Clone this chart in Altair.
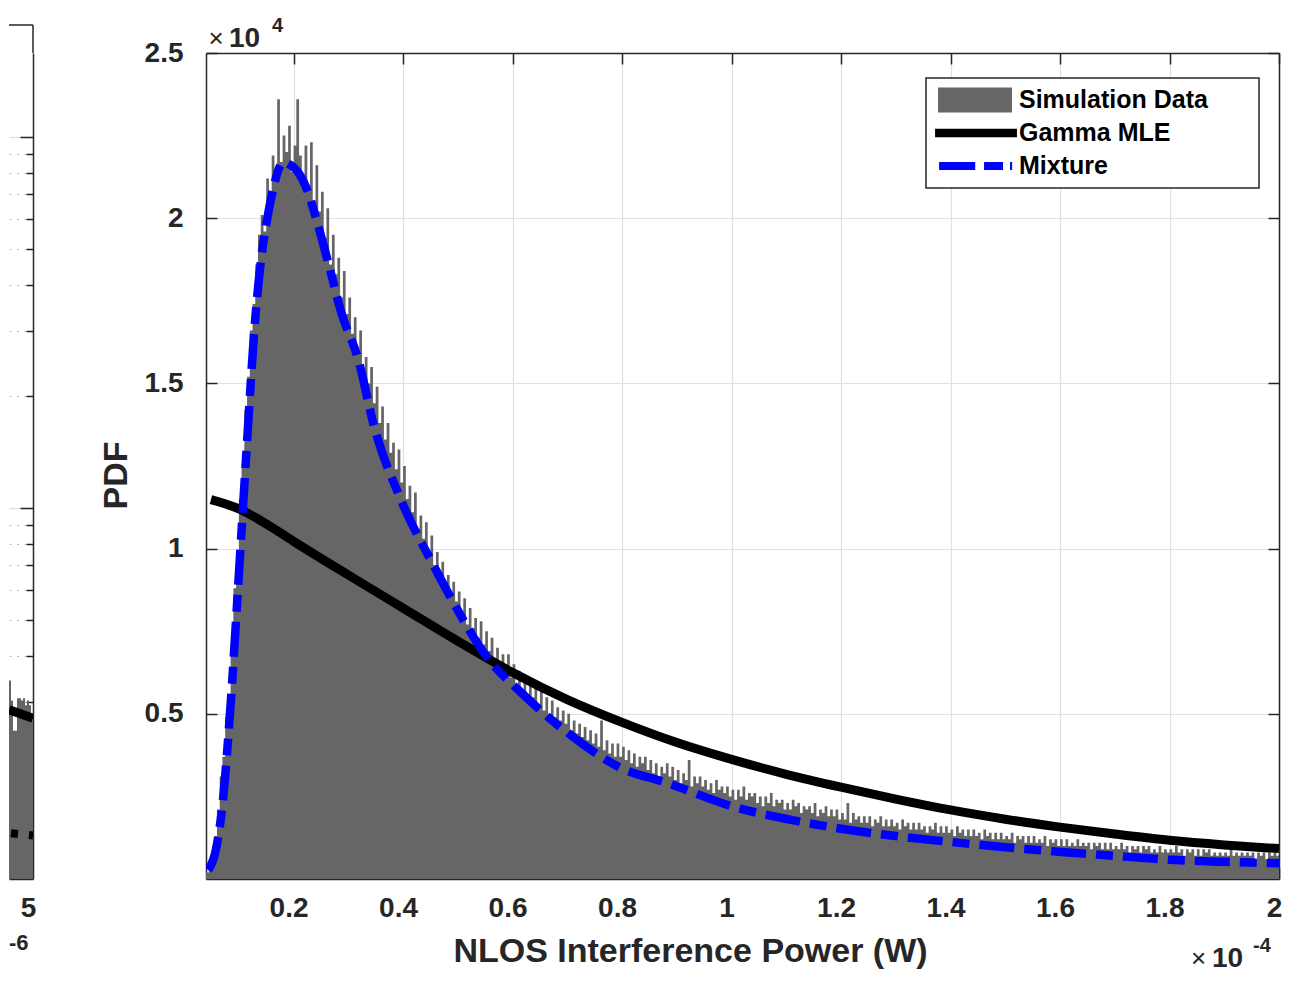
import altair as alt
import pandas as pd

# ---------------- data (x in units of 1e-4 W, y in units of 1e4) ----------------
BIN_START = 0.04
BIN_WIDTH = 0.005
hist_values = [
    0.02, 0.04, 0.07, 0.13, 0.21, 0.31, 0.37, 0.49, 0.55, 0.70,
    0.88, 0.97, 1.15, 1.25, 1.42, 1.52, 1.66, 1.74, 1.86, 1.95,
    2.01, 1.96, 2.12, 2.05, 2.19, 2.13, 2.36, 2.17, 2.25, 2.20,
    2.28, 2.14, 2.22, 2.36, 2.19, 2.12, 2.22, 2.10, 2.23, 2.05,
    2.16, 2.02, 2.08, 1.94, 2.03, 1.86, 1.95, 1.83, 1.88, 1.76,
    1.84, 1.71, 1.76, 1.65, 1.70, 1.60, 1.66, 1.54, 1.58, 1.50,
    1.55, 1.44, 1.49, 1.38, 1.43, 1.33, 1.38, 1.29, 1.32, 1.24,
    1.30, 1.20, 1.25, 1.15, 1.19, 1.11, 1.17, 1.06, 1.10, 1.03,
    1.08, 0.98, 1.04, 0.95, 0.99, 0.91, 0.96, 0.88, 0.92, 0.86,
    0.90, 0.84, 0.87, 0.80, 0.85, 0.77, 0.82, 0.76, 0.79, 0.73,
    0.78, 0.71, 0.75, 0.69, 0.73, 0.66, 0.70, 0.65, 0.68, 0.63,
    0.68, 0.61, 0.65, 0.59, 0.63, 0.57, 0.61, 0.56, 0.60, 0.55,
    0.58, 0.53, 0.57, 0.51, 0.55, 0.50, 0.54, 0.49, 0.52, 0.48,
    0.51, 0.47, 0.50, 0.45, 0.48, 0.44, 0.47, 0.43, 0.46, 0.42,
    0.45, 0.41, 0.44, 0.40, 0.48, 0.39, 0.42, 0.38, 0.41, 0.37,
    0.41, 0.37, 0.40, 0.36, 0.39, 0.35, 0.38, 0.34, 0.37, 0.35,
    0.37, 0.33, 0.36, 0.32, 0.35, 0.31, 0.34, 0.32, 0.35, 0.31,
    0.34, 0.30, 0.33, 0.29, 0.32, 0.30, 0.36, 0.28, 0.31, 0.29,
    0.31, 0.28, 0.30, 0.27, 0.29, 0.26, 0.30, 0.27, 0.28, 0.26,
    0.28, 0.25, 0.27, 0.24, 0.27, 0.25, 0.28, 0.24, 0.26, 0.25,
    0.26, 0.23, 0.25, 0.22, 0.25, 0.23, 0.26, 0.22, 0.24, 0.23,
    0.24, 0.21, 0.23, 0.21, 0.24, 0.22, 0.23, 0.20, 0.22, 0.21,
    0.22, 0.20, 0.23, 0.19, 0.21, 0.20, 0.22, 0.19, 0.21, 0.19,
    0.21, 0.18, 0.20, 0.18, 0.23, 0.17, 0.20, 0.18, 0.19, 0.17,
    0.19, 0.17, 0.19, 0.16, 0.18, 0.17, 0.19, 0.16, 0.18, 0.16,
    0.18, 0.16, 0.17, 0.15, 0.18, 0.16, 0.17, 0.15, 0.17, 0.15,
    0.17, 0.15, 0.16, 0.14, 0.16, 0.15, 0.17, 0.14, 0.16, 0.14,
    0.16, 0.14, 0.15, 0.13, 0.16, 0.14, 0.15, 0.13, 0.15, 0.13,
    0.15, 0.13, 0.14, 0.12, 0.15, 0.13, 0.14, 0.12, 0.14, 0.12,
    0.14, 0.12, 0.13, 0.12, 0.14, 0.11, 0.13, 0.12, 0.13, 0.11,
    0.13, 0.11, 0.13, 0.11, 0.12, 0.11, 0.13, 0.10, 0.12, 0.11,
    0.12, 0.10, 0.12, 0.10, 0.12, 0.10, 0.11, 0.10, 0.12, 0.10,
    0.11, 0.10, 0.11, 0.09, 0.11, 0.10, 0.11, 0.09, 0.11, 0.09,
    0.11, 0.09, 0.10, 0.09, 0.11, 0.09, 0.10, 0.08, 0.10, 0.09,
    0.10, 0.08, 0.10, 0.09, 0.10, 0.08, 0.09, 0.08, 0.10, 0.08,
    0.09, 0.08, 0.09, 0.08, 0.10, 0.08, 0.09, 0.07, 0.09, 0.08,
    0.09, 0.07, 0.09, 0.07, 0.09, 0.08, 0.09, 0.07, 0.08, 0.07,
    0.08, 0.07, 0.08, 0.07, 0.09, 0.07, 0.08, 0.07, 0.08, 0.07,
    0.08, 0.07, 0.08, 0.06, 0.08, 0.07, 0.08, 0.06, 0.08, 0.07,
    0.08, 0.07,
]

gamma_x = [0.049, 0.1, 0.15, 0.2, 0.3, 0.4, 0.5, 0.6, 0.7, 0.8, 0.9, 1.0, 1.1, 1.2,
           1.3, 1.4, 1.5, 1.6, 1.7, 1.8, 1.9, 2.0]
gamma_y = [1.148, 1.12, 1.075, 1.022, 0.92, 0.82, 0.72, 0.625, 0.543, 0.474, 0.413, 0.362,
           0.317, 0.278, 0.242, 0.209, 0.181, 0.157, 0.136, 0.117, 0.103, 0.092]

mix_x = [0.044, 0.058, 0.071, 0.085, 0.098, 0.107, 0.116, 0.128, 0.14, 0.152, 0.164, 0.173,
         0.182, 0.195, 0.208, 0.226, 0.241, 0.263, 0.287, 0.318, 0.347, 0.396, 0.457, 0.482,
         0.561, 0.61, 0.701, 0.793, 0.884, 1.005, 1.109, 1.2, 1.3, 1.401, 1.5, 1.602, 1.7,
         1.803, 1.9, 2.0]
mix_y = [0.027, 0.088, 0.24, 0.53, 0.867, 1.11, 1.35, 1.655, 1.867, 2.0, 2.097, 2.15,
         2.17, 2.16, 2.14, 2.08, 2.0, 1.867, 1.715, 1.573, 1.37, 1.148, 0.945, 0.867,
         0.655, 0.573, 0.442, 0.34, 0.29, 0.218, 0.179, 0.152, 0.13, 0.112, 0.096, 0.082, 0.07,
         0.058, 0.052, 0.048]

x_ticks = [0.2, 0.4, 0.6, 0.8, 1.0, 1.2, 1.4, 1.6, 1.8, 2.0]
y_ticks = [0.5, 1.0, 1.5, 2.0, 2.5]
series_names = ["Simulation Data", "Gamma MLE", "Mixture"]
series_colors = ["#666666", "#000000", "#0000ff"]

# partial neighbouring panel on the left (x in 1e-6, log y)
left_bin_start = 4.88
left_bin_width = 0.01
left_hist = [3.43, 3.03, 2.51, 2.51, 3.07, 3.07, 3.03, 3.07, 2.94, 3.03, 2.94, 2.68]
left_solid_x = [4.88, 5.0]
left_solid_y = [2.86, 2.71]
left_dotted_x = [4.88, 5.0]
left_dotted_y = [1.33, 1.31]
left_major = [10, 100]
left_minor = [2, 3, 4, 5, 6, 7, 8, 9, 20, 30, 40, 50, 60, 70, 80, 90]
left_x_ticks = [5.0]

# ---------------- styling ----------------
FONT = "Liberation Sans"
AX = "#262626"
GRID = "#e0e0e0"
HIST = "#666666"
W, H = 1073, 826
LW = 24
fmt = "format(datum.value, '~g')"


def step_frame(start, width, values, base):
    # histogram outline as step points: each bin start, plus the closing edge
    xs = [start + i * width for i in range(len(values))] + [start + len(values) * width]
    ys = list(values) + [values[-1]]
    return pd.DataFrame({"x": xs, "v": ys, "base": [base] * len(xs)})


hist_df = step_frame(BIN_START, BIN_WIDTH, hist_values, 0.0)
gamma_df = pd.DataFrame({"x": gamma_x, "y": gamma_y})
mix_df = pd.DataFrame({"x": mix_x, "y": mix_y})
one = pd.DataFrame({"k": [0]})

x_scale = alt.Scale(domain=[0.04, 2.0], nice=False, zero=False)
y_scale = alt.Scale(domain=[0.0, 2.5], nice=False, zero=False)


def tick_axis(orient, offset, values, domain):
    return alt.Axis(orient=orient, offset=offset, values=values, labels=False, grid=False,
                    ticks=True, tickSize=11, tickWidth=1.5, tickColor=AX,
                    domain=domain, domainColor=AX, domainWidth=1.5, title=None, minExtent=0)


def txt(s, x, y, size, weight, align="left"):
    return alt.Chart(one).mark_text(
        text=s, font=FONT, fontSize=size, fontWeight=weight, align=align,
        baseline="alphabetic", color=AX
    ).encode(x=alt.value(x), y=alt.value(y))


x_label_axis = alt.Axis(
    orient="bottom", values=x_ticks, labelExpr=fmt, grid=True, gridColor=GRID, gridWidth=1.2,
    ticks=False, domain=True, domainColor=AX, domainWidth=1.5,
    labelFont=FONT, labelFontSize=28, labelFontWeight="bold", labelColor=AX,
    labelPadding=15, labelOffset=-5, labelFlush=False,
    title="NLOS Interference Power (W)", titleFont=FONT, titleFontSize=34,
    titleFontWeight="bold", titleColor=AX, titleX=484, titleY=82,
    titleBaseline="alphabetic", titleAlign="center",
)
y_label_axis = alt.Axis(
    orient="left", values=y_ticks, labelExpr=fmt, grid=True, gridColor=GRID, gridWidth=1.2,
    ticks=False, domain=True, domainColor=AX, domainWidth=1.5,
    labelFont=FONT, labelFontSize=28, labelFontWeight="bold", labelColor=AX,
    labelPadding=23,
    title="PDF", titleFont=FONT, titleFontSize=34, titleFontWeight="bold", titleColor=AX,
    titleX=-80, titleY=422, titleBaseline="alphabetic", titleAlign="center", titleAngle=270,
)

hist = alt.Chart(hist_df).mark_area(color=HIST, interpolate="step-after", clip=True).encode(
    x=alt.X("x:Q", scale=x_scale, axis=x_label_axis),
    y=alt.Y("v:Q", scale=y_scale, axis=y_label_axis),
    y2="base:Q",
)

black = alt.Chart(gamma_df).mark_line(color="black", strokeWidth=9, clip=True,
                                      interpolate="monotone").encode(
    x=alt.X("x:Q", scale=x_scale, axis=tick_axis("top", -H, x_ticks, False)),
    y=alt.Y("y:Q", scale=y_scale, axis=tick_axis("right", -W, y_ticks, False)),
)

blue = alt.Chart(mix_df).mark_line(color="#0000ff", strokeWidth=8.5, clip=True,
                                   strokeDash=[35, 10, 17, 10], interpolate="monotone").encode(
    x=alt.X("x:Q", scale=x_scale, axis=tick_axis("bottom", -H, x_ticks, True)),
    y=alt.Y("y:Q", scale=y_scale, axis=tick_axis("left", -W, y_ticks, True)),
)

# legend swatches (unit = 13 px, symbolSize = 26^2)
symbol_paths = [
    "M-2.92,-0.96L2.77,-0.96L2.77,0.96L-2.92,0.96Z",
    "M-3.15,-0.33L3.15,-0.33L3.15,0.33L-3.15,0.33Z",
    "M-2.84,-0.31L-0.06,-0.31L-0.06,0.31L-2.84,0.31Z M0.62,-0.31L2.08,-0.31L2.08,0.31L0.62,0.31Z "
    "M2.62,-0.31L2.78,-0.31L2.78,0.31L2.62,0.31Z",
]
# trailing fixed-width padding (closed by a zero-width char so it is not trimmed)
pad = "\u00a0" * 6 + "\u200b"
legend_obj = alt.Legend(
    orient="none", legendX=917, legendY=25, title=None, symbolSize=676,
    symbolStrokeWidth=0, symbolOpacity=1, symbolOffset=28,
    labelFont=FONT, labelFontSize=25,
    labelFontWeight="bold", labelColor="black", labelLimit=600, labelOffset=30,
    strokeColor=AX, fillColor="white", padding=9, rowPadding=7,
    labelExpr="datum.label + '" + pad + "'",
)
legend_df = pd.DataFrame({"series": pd.Series([], dtype="object")})
leg = alt.Chart(legend_df).mark_point(filled=True, opacity=1).encode(
    color=alt.Color("series:N", scale=alt.Scale(domain=series_names, range=series_colors),
                    legend=legend_obj),
    shape=alt.Shape("series:N", scale=alt.Scale(domain=series_names, range=symbol_paths),
                    legend=legend_obj),
)

main = alt.layer(
    hist, black, blue, leg,
    txt("\u00d7", 10, -6, 26, "normal", "center"),
    txt("10", 23, -6, 28, "bold"),
    txt("4", 66, -21, 20, "bold"),
    txt("\u00d7", 992.5, 914, 26, "normal", "center"),
    txt("10", 1006, 914, 28, "bold"),
    txt("-4", 1047, 899, 20, "bold"),
).resolve_axis(x="independent", y="independent").properties(width=W, height=H)

# ---------------- left partial panel ----------------
left_df = step_frame(left_bin_start, left_bin_width, left_hist, 1.0)
ls_df = pd.DataFrame({"x": left_solid_x, "y": left_solid_y})
ld_df = pd.DataFrame({"x": left_dotted_x, "y": left_dotted_y})

lx_scale = alt.Scale(domain=[4.88, 5.0], nice=False, zero=False)
ly_scale = alt.Scale(type="log", domain=[1, 168.4], nice=False)
major_test = "datum.value == 10 || datum.value == 100"

left_y_axis = alt.Axis(
    orient="left", offset=-LW, values=left_major + left_minor, labels=False,
    grid=True, gridWidth=1.2,
    gridColor={"condition": {"test": major_test, "value": "#dcdcdc"}, "value": "#bdbdbd"},
    gridDash={"condition": {"test": major_test, "value": []}, "value": [2, 5.5]},
    ticks=True, tickWidth=1.5, tickColor=AX,
    tickSize={"condition": {"test": major_test, "value": 13}, "value": 7},
    domain=True, domainColor=AX, domainWidth=1.5, title=None, minExtent=0,
)
left_x_axis = alt.Axis(
    orient="bottom", values=left_x_ticks, labelExpr=fmt, ticks=False, grid=False,
    domain=True, domainColor=AX, domainWidth=1.5,
    labelFont=FONT, labelFontSize=28, labelFontWeight="bold", labelColor=AX,
    labelPadding=15, labelOffset=-5, labelFlush=False, title=None,
)

lhist = alt.Chart(left_df).mark_area(color=HIST, interpolate="step-after", clip=True).encode(
    x=alt.X("x:Q", scale=lx_scale, axis=left_x_axis),
    y=alt.Y("v:Q", scale=ly_scale, axis=left_y_axis),
    y2="base:Q",
)
lsolid = alt.Chart(ls_df).mark_line(color="black", strokeWidth=9, clip=True).encode(
    x=alt.X("x:Q", scale=lx_scale), y=alt.Y("y:Q", scale=ly_scale))
ldotted = alt.Chart(ld_df).mark_line(color="black", strokeWidth=8, clip=True,
                                     strokeDash=[7, 11], strokeDashOffset=16).encode(
    x=alt.X("x:Q", scale=lx_scale), y=alt.Y("y:Q", scale=ly_scale))
frame_top = alt.Chart(one).mark_rule(color=AX, strokeWidth=1.5).encode(
    x=alt.value(0), x2=alt.value(LW), y=alt.value(-28))
frame_side = alt.Chart(one).mark_rule(color=AX, strokeWidth=1.5).encode(
    x=alt.value(LW), y=alt.value(-28), y2=alt.value(0))

left = alt.layer(
    lhist, lsolid, ldotted, frame_top, frame_side,
    txt("-6", 0, 897, 22, "bold"),
).properties(width=LW, height=H)

chart = alt.hconcat(left, main, spacing=173, bounds="flush").properties(
    padding={"left": 0, "top": 8, "right": 0, "bottom": 0}
).configure_view(stroke=None).configure_legend(strokeWidth=1.5)

chart.save("out.html", embed_options={"renderer": "svg", "actions": False})
